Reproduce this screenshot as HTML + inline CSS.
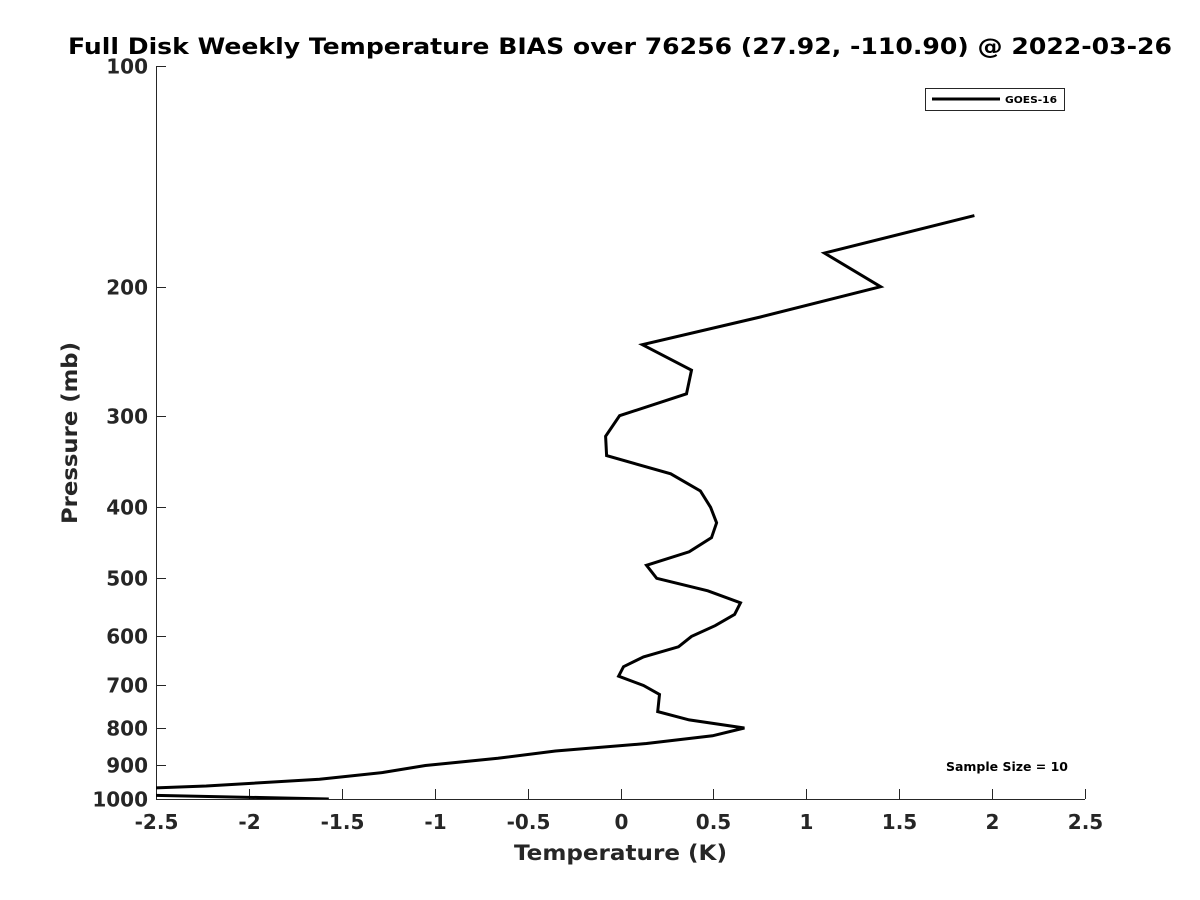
<!DOCTYPE html>
<html><head><meta charset="utf-8"><style>
body{margin:0;background:#fff;}
svg{display:block;font-family:"DejaVu Sans","Liberation Sans",sans-serif;font-weight:bold;}
</style></head><body>
<svg width="1200" height="900" viewBox="0 0 1200 900">
<defs><clipPath id="pc"><rect x="156" y="66" width="929" height="733"/></clipPath></defs>
<rect width="1200" height="900" fill="#fff"/>
<text x="68" y="54" font-size="22" fill="#000" textLength="1104" lengthAdjust="spacingAndGlyphs">Full Disk Weekly Temperature BIAS over 76256 (27.92, -110.90) @ 2022-03-26</text>
<g id="axes"></g>
<g id="series" clip-path="url(#pc)"></g>
<text x="514" y="860" font-size="21" fill="#262626" textLength="213" lengthAdjust="spacingAndGlyphs">Temperature (K)</text>
<text transform="translate(77,524) rotate(-90)" font-size="21" fill="#262626" textLength="182" lengthAdjust="spacingAndGlyphs">Pressure (mb)</text>
<g>
<rect x="925.5" y="88.5" width="139" height="22" fill="#fff" stroke="#262626" stroke-width="1"/>
<line x1="932" y1="99" x2="1000" y2="99" stroke="#000" stroke-width="3"/>
<text x="1005" y="103" font-size="10" fill="#000" textLength="52" lengthAdjust="spacingAndGlyphs">GOES-16</text>
</g>
<text x="946" y="771" font-size="12" fill="#000" textLength="122" lengthAdjust="spacingAndGlyphs">Sample Size = 10</text>
</svg>
<script>
const pressures=[160,180,200,220,240,260,280,300,320,340,360,380,400,420,440,460,480,500,520,540,560,580,600,620,640,660,680,700,720,740,760,780,800,820,840,860,880,900,920,940,960,980,1000];
const biasGoes16=[1.905,1.098,1.40,0.753,0.118,0.382,0.355,-0.005,-0.08,-0.075,0.27,0.43,0.485,0.517,0.49,0.37,0.14,0.195,0.47,0.646,0.614,0.51,0.382,0.312,0.124,0.016,-0.01,0.124,0.21,0.205,0.20,0.37,0.667,0.495,0.14,-0.35,-0.66,-1.05,-1.28,-1.62,-2.23,-3.2,-1.57];
const xTicks=[-2.5,-2,-1.5,-1,-0.5,0,0.5,1,1.5,2,2.5];
const yTicks=[100,200,300,400,500,600,700,800,900,1000];
const NS="http://www.w3.org/2000/svg";
const L=156,R=1085,T=66,B=799;
function sx(v){return L+(v+2.5)/5*(R-L);}
function sy(p){return T+(Math.log10(p)-2)*(B-T);}
function mk(tag,attrs,parent){const e=document.createElementNS(NS,tag);for(const k in attrs)e.setAttribute(k,attrs[k]);parent.appendChild(e);return e;}
const ax=document.getElementById('axes');
let a=mk('line',{x1:L,y1:B+0.5,x2:R,y2:B+0.5,stroke:'#262626','stroke-width':1},ax);


a=mk('line',{x1:L+0.5,y1:T,x2:L+0.5,y2:B,stroke:'#262626','stroke-width':1},ax);


xTicks.forEach(v=>{const x=Math.round(sx(v))+0.5;
 const t=mk('line',{x1:x,y1:B,x2:x,y2:B-10,stroke:'#262626','stroke-width':1},ax);
 
 
 const s=mk('text',{x:x,y:829,'text-anchor':'middle','font-size':20,fill:'#262626'},ax);
 s.textContent=String(v);
 
 });
yTicks.forEach(p=>{const y=Math.round(sy(p))+0.5;
 const t=mk('line',{x1:L,y1:y,x2:L+10,y2:y,stroke:'#262626','stroke-width':1},ax);
 
 
 const s=mk('text',{x:148,y:y+7,'text-anchor':'end','font-size':20,fill:'#262626'},ax);
 s.textContent=String(p);
 
 });
const sg=document.getElementById('series');
const d=pressures.map((p,i)=>(i?'L':'M')+sx(biasGoes16[i]).toFixed(1)+','+sy(p).toFixed(1)).join(' ');
const line=mk('path',{d:d,fill:'none',stroke:'#000','stroke-width':3,'stroke-linejoin':'miter'},sg);


</script>
</body></html>
